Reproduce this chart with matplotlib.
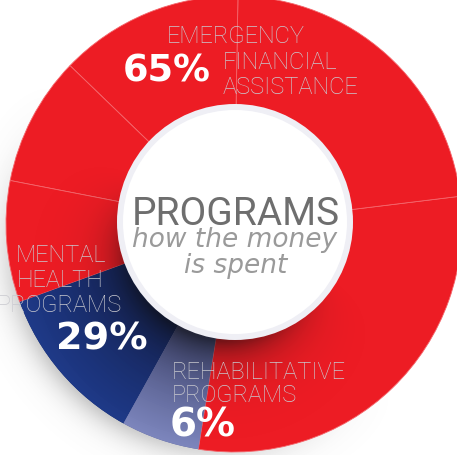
import numpy as np
import matplotlib
matplotlib.use('Agg')
import matplotlib.pyplot as plt
from matplotlib.patches import Circle
from matplotlib.colors import to_rgb

# ---- data ----
categories = ['EMERGENCY\nFINANCIAL\nASSISTANCE', 'MENTAL\nHEALTH\nPROGRAMS', 'REHABILITATIVE\nPROGRAMS']
percent_labels = [65, 29, 6]
# drawn slices (as they appear in the picture), counter-clockwise starting at 200 deg
slice_names = ['Mental Health', 'Rehabilitative', 'Emergency a', 'Emergency b',
               'Emergency c', 'Emergency d', 'Emergency e']
slice_arcs = [41, 20, 106, 82, 47, 33, 31]
slice_group = [1, 2, 0, 0, 0, 0, 0]

RED = '#ED1C24'
group_colors = [RED, '#1a3070', '#5c6498']

W, H = 457, 456
fig = plt.figure(figsize=(W / 100, H / 100), dpi=100)
ax = fig.add_axes([0, 0, 1, 1])

cx, cy = 234, H - 225
R_out, R_in, R_hole = 228, 110, 118

# pixel grid for gradients
xs = np.arange(W) + 0.5
ys = np.arange(H) + 0.5
X, Y = np.meshgrid(xs, ys)
r = np.hypot(X - cx, Y - cy)
theta = np.degrees(np.arctan2(Y - cy, X - cx))

def ang_weight(center, power):
    return np.clip(np.cos(np.radians(theta - center)), 0, 1) ** power

# outer drop shadow (beneath the ring), toward lower-left
a_sh = 0.38 * ang_weight(228, 2.0) * np.exp(-(np.clip(r - R_out, 0, None) / 15.0) ** 1.3)
shadow_img = np.zeros((H, W, 4))
shadow_img[..., :3] = 0.45
shadow_img[..., 3] = a_sh
ax.imshow(shadow_img, extent=[0, W, 0, H], origin='lower', zorder=0, interpolation='bilinear')

colors = [group_colors[g] for g in slice_group]
wedges, _ = ax.pie(slice_arcs, startangle=200, counterclock=True, colors=colors,
                   radius=R_out, center=(cx, cy), frame=True,
                   wedgeprops=dict(width=R_out - R_in + 2, linewidth=0))
ax.set_xlim(0, W)
ax.set_ylim(0, H)
ax.set_aspect('equal')
ax.axis('off')
for w, g in zip(wedges, slice_group):
    w.set_zorder(1)
    if g == 0:
        w.set_edgecolor('#f4666c')
        w.set_linewidth(0.6)

# radial gradients for blue slices
t = np.clip((r - R_hole) / (R_out - R_hole), 0, 1)[..., None]

def grad(c_in, c_out):
    a, b = np.array(to_rgb(c_in)), np.array(to_rgb(c_out))
    img = np.ones((H, W, 4))
    img[..., :3] = a * (1 - t) + b * t
    return img

gimgs = {1: grad('#16255a', '#1f3a88'), 2: grad('#454b78', '#7d86bd')}
for w, g in zip(wedges, slice_group):
    if g in gimgs:
        im = ax.imshow(gimgs[g], extent=[0, W, 0, H], origin='lower', zorder=1.5,
                       interpolation='bilinear')
        im.set_clip_path(w)

# inner shadow cast by centre disc, toward lower-left/bottom
a_in = 0.6 * ang_weight(242, 1.5) * np.exp(-np.clip(r - R_hole, 0, None) / 20.0)
inner_img = np.zeros((H, W, 4))
inner_img[..., :3] = 0.05
inner_img[..., 3] = a_in
clipc = Circle((cx, cy), R_out, transform=ax.transData)
im2 = ax.imshow(inner_img, extent=[0, W, 0, H], origin='lower', zorder=2, interpolation='bilinear')
im2.set_clip_path(clipc)

# centre disc
ax.add_patch(Circle((cx + 1, cy + 2), R_hole, facecolor='#efeff5', edgecolor='none', zorder=3))
ax.add_patch(Circle((cx + 1, cy + 2), R_hole - 6, facecolor='white', edgecolor='none', zorder=3.1))

def Y_(yimg):
    return H - yimg

LAB = '#c9c9cf'
FAM = ['Roboto', 'DejaVu Sans']
lab_kw = dict(color=LAB, fontsize=17, family=FAM, fontweight='light', va='baseline', ha='left', zorder=5)
pct_kw = dict(color='white', family=['DejaVu Sans'], fontweight='bold', va='baseline', ha='left', zorder=5)

# Emergency
em_lines = categories[0].split('\n')
ax.text(167, Y_(43), em_lines[0], **lab_kw)
ax.text(223, Y_(69), em_lines[1], **lab_kw)
ax.text(223, Y_(94), em_lines[2], **lab_kw)
ax.text(123, Y_(82), f'{percent_labels[0]}%', fontsize=26.5, **pct_kw)

# Mental health
mh = categories[1].split('\n')
ax.text(16, Y_(262), mh[0], **lab_kw)
ax.text(17, Y_(287), mh[1], **lab_kw)
ax.text(-3, Y_(312), mh[2], **lab_kw)
ax.text(56, Y_(350), f'{percent_labels[1]}%', fontsize=27.5, **pct_kw)

# Rehabilitative
rh = categories[2].split('\n')
ax.text(172, Y_(379), rh[0], **lab_kw)
ax.text(172, Y_(402), rh[1], **lab_kw)
ax.text(170, Y_(437), f'{percent_labels[2]}%', fontsize=28, **pct_kw)

# centre title
ax.text(236, Y_(225), 'PROGRAMS', color='#6e6e6e', fontsize=28, family=FAM,
        ha='center', va='baseline', zorder=5)
ax.text(235, Y_(247), 'how the money', color='#9a9a9a', fontsize=19,
        family=['DejaVu Sans'], style='italic', ha='center', va='baseline', zorder=5)
ax.text(236, Y_(273), 'is spent', color='#9a9a9a', fontsize=19,
        family=['DejaVu Sans'], style='italic', ha='center', va='baseline', zorder=5)

fig.savefig('out.png', dpi=100)
